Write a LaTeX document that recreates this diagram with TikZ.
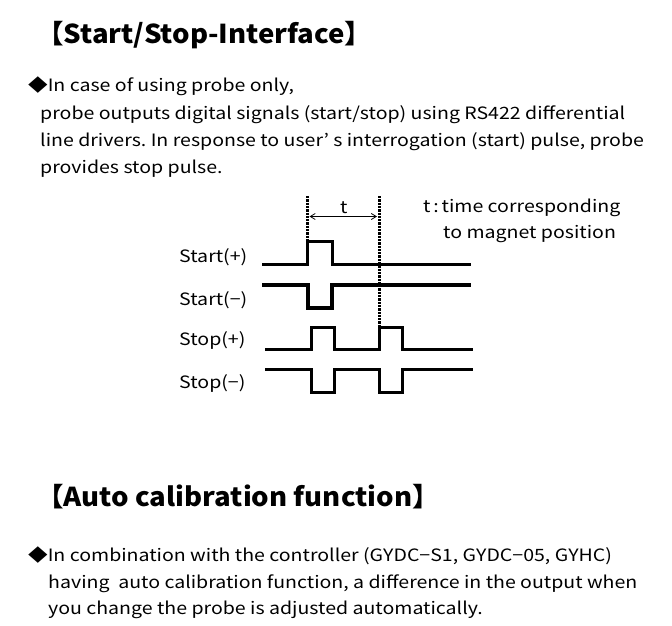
\documentclass[tikz,border=0pt]{standalone}
\usepackage{fontspec}
\setmainfont{Noto Sans CJK JP}[FakeStretch=1.15]
\newfontfamily\titlefont{Noto Sans CJK JP}[FakeStretch=1.06]
\usetikzlibrary{arrows.meta}
\frenchspacing
\begin{document}
\begin{tikzpicture}[x=1pt,y=-1pt,
  titletext/.style={anchor=base west,inner sep=0pt,font=\titlefont\fontsize{26}{30}\selectfont\bfseries},
  bodytext/.style={anchor=base west,inner sep=0pt,font=\fontsize{17}{20}\selectfont},
  sigtext/.style={anchor=base west,inner sep=0pt,font=\fontsize{17}{20}\selectfont},
  wave/.style={line width=3pt,line join=miter},
  thickwave/.style={line width=4pt,line join=miter},
  dotline/.style={line width=3pt,dash pattern=on 2.3pt off 1pt},
  tarrow/.style={line width=0.8pt,{Straight Barb[length=5pt,width=6pt]}-{Straight Barb[length=5pt,width=6pt]}}]
\useasboundingbox (0,0) rectangle (672,626);
\fill[white] (0,0) rectangle (672,626);
% top section
\node[titletext] (t1) at (36,44) {【Start/Stop-Interface】};
\node[bodytext] (b1) at (28,92) {◆In case of using probe only,};
\node[bodytext] (b2) at (40,119) {probe outputs digital signals (start/stop) using RS422 differential};
\node[bodytext] (b3) at (40,146) {line drivers. In response to user’ s interrogation (start) pulse, probe};
\node[bodytext] (b4) at (40,173) {provides stop pulse.};
% timing diagram
\coordinate (d1top) at (307.5,196);
\coordinate (d1bot) at (307.5,241);
\coordinate (d2top) at (379,196);
\coordinate (d2bot) at (379,327);
\draw[dotline] (d1top) -- (d1bot);
\draw[dotline] (d2top) -- (d2bot);
\coordinate (al) at (309.5,216.5);
\coordinate (ar) at (377,216.5);
\draw[tarrow] (al) -- (ar);
\node[sigtext] (tl) at (340,213) {t};
\node[sigtext] (tc1) at (423,212) {t\,:\,time corresponding};
\node[sigtext] (tc2) at (443,238) {to magnet position};
\node[sigtext] (l1) at (179,262) {Start(+)};
\node[sigtext] (l2) at (179,305) {Start(−)};
\node[sigtext] (l3) at (179,345) {Stop(+)};
\node[sigtext] (l4) at (179,388) {Stop(−)};
\draw[wave] (262,264) -- (307.5,264) -- (307.5,241) -- (332,241) -- (332,264) -- (471,264);
\draw[thickwave] (262,285) -- (307.5,285) -- (307.5,308) -- (332,308) -- (332,285) -- (471,285);
\draw[wave] (265,349) -- (311,349) -- (311,327) -- (334,327) -- (334,349) -- (379,349) -- (379,327) -- (402,327) -- (402,349) -- (473,349);
\draw[wave] (265,369) -- (311,369) -- (311,392) -- (334,392) -- (334,369) -- (379,369) -- (379,392) -- (402,392) -- (402,369) -- (473,369);
% bottom section
\node[titletext] (t2) at (36,506) {【Auto calibration function】};
\node[bodytext] (c1) at (28,561) {◆In combination with the controller (GYDC−S1, GYDC−05, GYHC)};
\node[bodytext] (c2) at (48,588) {having\ \ auto calibration function, a difference in the output when};
\node[bodytext] (c3) at (48,614) {you change the probe is adjusted automatically.};
\end{tikzpicture}
\end{document}
